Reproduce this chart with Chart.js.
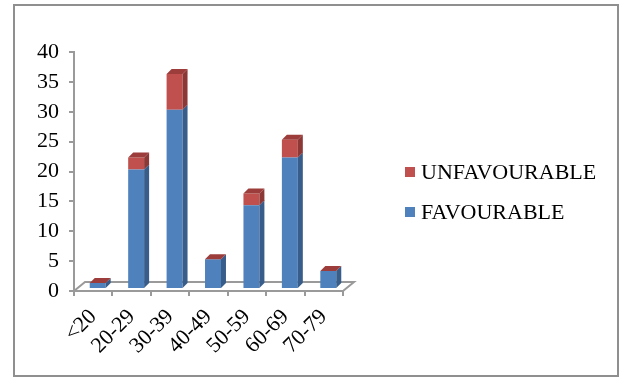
<!DOCTYPE html>
<html>
<head>
<meta charset="utf-8">
<script src="https://cdn.jsdelivr.net/npm/chart.js@4.4.0/dist/chart.umd.min.js"></script>
<style>
  body { margin: 0; background: #fff; }
  #wrap { position: relative; width: 620px; height: 378px; overflow: hidden; }
  #ageChart { position: absolute; left: 0; top: 0; }
  .frame { position: absolute; left: 13px; top: 4px; width: 606px; height: 373px; box-sizing: border-box; border: 2px solid #8f8f8f; }
  .legend-item { position: absolute; left: 405px; height: 22px; font: 22px "Liberation Serif", "Times New Roman", serif; line-height: 22px; color: #000; white-space: nowrap; }
  .legend-item span.box { position: absolute; left: 0; top: 6px; width: 10px; height: 10px; }
  .legend-item span.txt { position: absolute; left: 16px; top: 0; }
</style>
</head>
<body>
<div id="wrap">
  <canvas id="ageChart" width="620" height="378"></canvas>
  <div class="frame"></div>
  <div class="legend-item" style="top:161px"><span class="box" style="background:#c0504d"></span><span class="txt">UNFAVOURABLE</span></div>
  <div class="legend-item" style="top:201px"><span class="box" style="background:#4f81bd"></span><span class="txt">FAVOURABLE</span></div>
</div>
<script>
const ageGroups = ['<20', '20-29', '30-39', '40-49', '50-59', '60-69', '70-79'];
const favourable = [1, 20, 30, 5, 14, 22, 3];
const unfavourable = [0, 2, 6, 0, 2, 3, 0];
const yTicks = [0, 5, 10, 15, 20, 25, 30, 35, 40];

const AXIS_GREY = '#9a9a9a';
const FLOOR_DX = 11, FLOOR_DY = -9;   // floor depth
const BAR_DX = 4.5, BAR_DY = -2;      // bars sit in the middle of the floor
const FACE_DX = 5, FACE_DY = -5;      // bar depth
const sideColors = ['#385d8a', '#8c3836'];
const topColors = ['#6a93c8', '#9c3d3b'];

// fake 3D: floor outline, then side and top faces on each bar
const depthPlugin = {
  id: 'depth3d',
  beforeDatasetsDraw(chart) {
    const { ctx, chartArea: a, scales } = chart;
    const y0 = scales.y.getPixelForValue(0);
    ctx.save();
    ctx.strokeStyle = AXIS_GREY;
    ctx.lineWidth = 2;
    ctx.beginPath();
    ctx.moveTo(a.left, y0);
    ctx.lineTo(a.left + FLOOR_DX, y0 + FLOOR_DY);
    ctx.lineTo(a.right + FLOOR_DX, y0 + FLOOR_DY);
    ctx.lineTo(a.right, y0);
    ctx.stroke();
    ctx.restore();
    ctx.save();
    ctx.translate(BAR_DX, BAR_DY);
  },
  afterDatasetsDraw(chart) {
    const ctx = chart.ctx;
    const n = chart.data.datasets.length;
    ageGroups.forEach((_, j) => {
      for (let i = 0; i < n; i++) {
        const bar = chart.getDatasetMeta(i).data[j];
        const { x, y, base, width } = bar.getProps(['x', 'y', 'base', 'width'], true);
        const l = x - width / 2, r = x + width / 2;
        ctx.fillStyle = sideColors[i];
        ctx.beginPath();
        ctx.moveTo(r, y);
        ctx.lineTo(r + FACE_DX, y + FACE_DY);
        ctx.lineTo(r + FACE_DX, base + FACE_DY);
        ctx.lineTo(r, base);
        ctx.closePath();
        ctx.fill();
        if (i === n - 1) {
          ctx.fillStyle = topColors[i];
          ctx.beginPath();
          ctx.moveTo(l, y);
          ctx.lineTo(l + FACE_DX, y + FACE_DY);
          ctx.lineTo(r + FACE_DX, y + FACE_DY);
          ctx.lineTo(r, y);
          ctx.closePath();
          ctx.fill();
        }
      }
    });
    ctx.restore();
  }
};

const serif = { family: '"Liberation Serif", "Times New Roman", serif', size: 22 };

new Chart(document.getElementById('ageChart'), {
  type: 'bar',
  data: {
    labels: ageGroups,
    datasets: [
      { label: 'FAVOURABLE', data: favourable, backgroundColor: '#4f81bd' },
      { label: 'UNFAVOURABLE', data: unfavourable, backgroundColor: '#c0504d' }
    ]
  },
  options: {
    responsive: false,
    animation: false,
    devicePixelRatio: 1,
    layout: { padding: { left: 0, top: 52, right: 277, bottom: 0 } },
    datasets: { bar: { categoryPercentage: 1, barPercentage: 0.415, borderWidth: 0 } },
    plugins: { legend: { display: false }, tooltip: { enabled: false } },
    scales: {
      x: {
        stacked: true,
        afterFit: s => { s.height = 87; },
        grid: { offset: true, drawOnChartArea: false, drawTicks: true, tickLength: 5, color: AXIS_GREY, lineWidth: 2 },
        border: { color: AXIS_GREY, width: 2 },
        ticks: { color: '#000', font: serif, minRotation: 45, maxRotation: 45, padding: 8, labelOffset: 0, autoSkip: false }
      },
      y: {
        stacked: true,
        min: 0,
        max: 40,
        afterFit: s => { s.width = 74; },
        afterBuildTicks: s => { s.ticks = yTicks.map(v => ({ value: v })); },
        grid: { drawOnChartArea: false, drawTicks: true, tickLength: 5, color: AXIS_GREY, lineWidth: 2 },
        border: { color: AXIS_GREY, width: 2 },
        ticks: { color: '#000', font: serif, padding: 10 }
      }
    }
  },
  plugins: [depthPlugin]
});
</script>
</body>
</html>
